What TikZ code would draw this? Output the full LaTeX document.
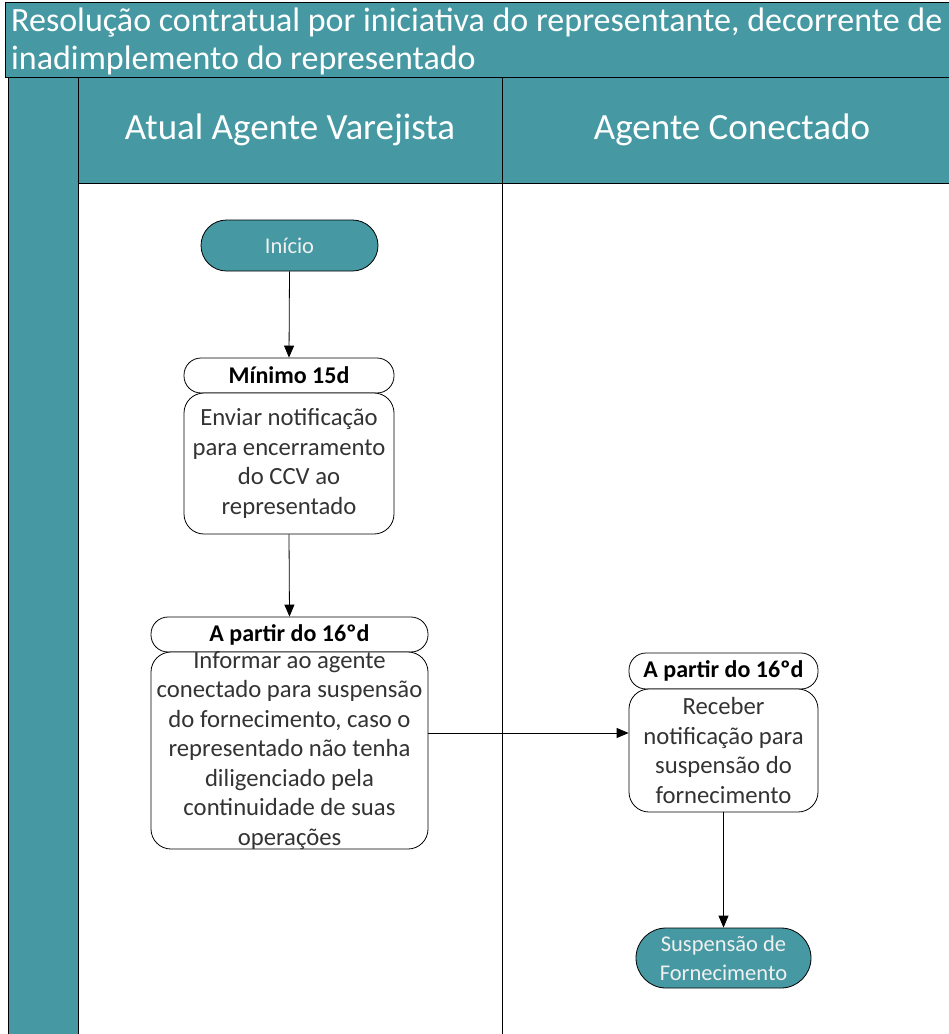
\documentclass[tikz,border=0pt]{standalone}
\usepackage{fontspec}
\setmainfont{Carlito}
\usetikzlibrary{arrows.meta}
\definecolor{laneteal}{HTML}{4699A3}
\definecolor{boxtext}{HTML}{333333}
\begin{document}
\begin{tikzpicture}[x=1pt,y=-1pt,
  band/.style={fill=laneteal, draw=black, line width=0.8pt},
  lanehead/.style={text=white, font=\fontsize{37}{42}\selectfont, anchor=center},
  term/.style={draw=black, fill=laneteal, line width=0.8pt, text=white!94!black, align=center, font=\fontsize{22.5}{29}\selectfont, inner sep=0pt},
  phase/.style={draw=black, fill=white, line width=0.8pt, font=\bfseries\fontsize{24}{28}\selectfont, inner sep=0pt, rounded corners=17pt},
  taskbox/.style={draw=black, fill=white, line width=0.8pt, inner sep=0pt, rounded corners=20pt},
  tasktext/.style={text=boxtext, align=center, font=\fontsize{24.7}{29.5}\selectfont, inner sep=0pt},
  arr/.style={draw=black, line width=0.8pt, -{Triangle[length=12pt,width=10pt]}},
  lane/.style={draw=black, line width=0.8pt}
]
\useasboundingbox (0,0) rectangle (949,1034);
% title band
\fill[laneteal] (5,2) rectangle (949,77);
\draw[black, line width=0.8pt] (5,77) -- (5,2) -- (949,2);
\node[anchor=north west, text=white, align=left, inner sep=0pt, font=\fontsize{34}{38}\selectfont] (title) at (11,8)
  {Resolução contratual por iniciativa do representante, decorrente de\\inadimplemento do representado};
% header row and left column
\fill[laneteal] (8,77) rectangle (949,183);
\fill[laneteal] (8,77) rectangle (78,1034);
\draw[lane] (5,77) -- (949,77);
\draw[lane] (78,183) -- (949,183);
\draw[lane] (8,77) -- (8,1034);
\draw[lane] (78,77) -- (78,1034);
\draw[lane] (502,77) -- (502,1034);
\node[lanehead] (h1lane) at (290,130) {Atual Agente Varejista};
\node[lanehead] (h2lane) at (732,130) {Agente Conectado};
% nodes
\node[term, minimum width=177pt, minimum height=51pt, rounded corners=25.5pt] (inicio) at (289.5,245.5) {Início};
\node[phase, minimum width=210pt, minimum height=35pt] (p1) at (289,375.5) {Mínimo 15d};
\node[taskbox, minimum width=210pt, minimum height=141pt] (b1) at (289,463.5) {};
\node[tasktext] (t1) at (b1) {Enviar notificação\\para encerramento\\do CCV ao\\representado};
\node[phase, minimum width=277pt, minimum height=35pt] (p2) at (289.5,634.5) {A partir do 16ºd};
\node[taskbox, minimum width=277pt, minimum height=197pt] (b2) at (289.5,750.5) {};
\node[tasktext] (t2) at (b2) {Informar ao agente\\conectado para suspensão\\do fornecimento, caso o\\representado não tenha\\diligenciado pela\\continuidade de suas\\operações};
\node[phase, minimum width=189pt, minimum height=36pt] (p3) at (723.5,671) {A partir do 16ºd};
\node[taskbox, minimum width=189pt, minimum height=123pt] (b3) at (723.5,750.5) {};
\node[tasktext] (t3) at (b3) {Receber\\notificação para\\suspensão do\\fornecimento};
\node[term, minimum width=175pt, minimum height=60pt, rounded corners=30pt] (fim) at (723.5,958) {Suspensão de\\Fornecimento};
% connectors
\draw[arr] (inicio.south) -- (p1.north);
\draw[arr] (b1.south) -- (p2.north);
\draw[arr] ([yshift=17.5pt]b2.east) -- ([yshift=17.5pt]b2.east -| b3.west);
\draw[arr] (b3.south) -- (fim.north);
\end{tikzpicture}
\end{document}
